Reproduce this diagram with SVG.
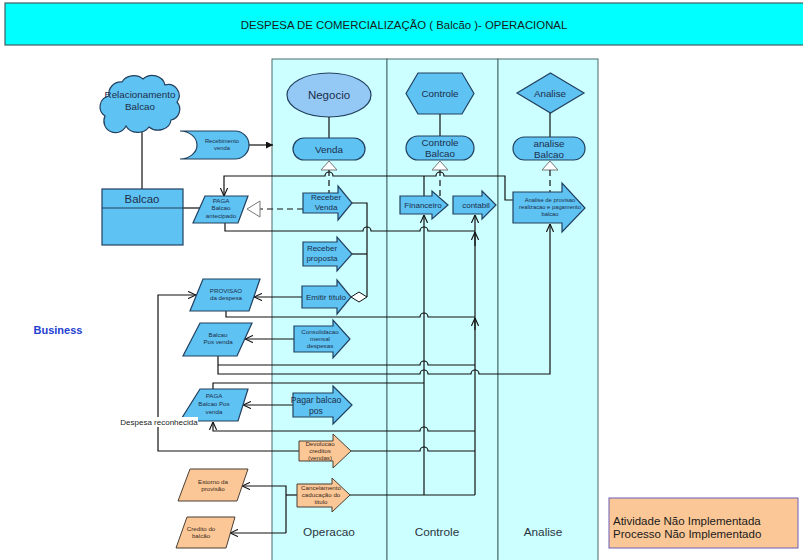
<svg xmlns="http://www.w3.org/2000/svg" width="803" height="560" viewBox="0 0 803 560">
<style>
text{font-family:"Liberation Sans",Arial,Helvetica,sans-serif;fill:#1c2e4a;text-anchor:middle}
.sh{fill:#5ec2f2;stroke:#22405f;stroke-width:1.2}
.lt{fill:#94c9f6;stroke:#22405f;stroke-width:1.2}
.or{fill:#fbc796;stroke:#4a3f35;stroke-width:1}
.ot{fill:#3b2a1c}
.c{fill:none;stroke:#111;stroke-width:1.2}
.d{stroke-dasharray:6 4}
.oa{marker-end:url(#oa)}
.lane{fill:#ccffff;stroke:#4a6a6a;stroke-width:1}
.tri{fill:#fff;stroke:#777;stroke-width:1}
.s6{font-size:6.2px}
.s8{font-size:8px}
.s10{font-size:9.8px}
.lbl{font-size:11.8px;fill:#2b3540}
</style>
<defs>
<marker id="oa" viewBox="0 0 10 10" refX="10" refY="5" markerWidth="8" markerHeight="8" markerUnits="userSpaceOnUse" orient="auto">
<path d="M0,0.5 L10,5 L0,9.5" fill="none" stroke="#111" stroke-width="1.4"/>
</marker>
<marker id="fa" viewBox="0 0 10 10" refX="10" refY="5" markerWidth="7" markerHeight="7" markerUnits="userSpaceOnUse" orient="auto">
<path d="M0,0 L10,5 L0,10 Z" fill="#111"/>
</marker>
</defs>

<rect width="803" height="560" fill="#fff"/>

<g id="header">
<rect x="5" y="3" width="803" height="42" fill="#00ffff" stroke="#3f5f5f" stroke-width="1.2"/>
<text x="404" y="29" style="font-size:11.4px;fill:#1a1a1a">DESPESA DE COMERCIALIZAÇÃO ( Balcão )- OPERACIONAL</text>
</g>

<g id="lanes">
<rect class="lane" x="272" y="59" width="115" height="510"/>
<rect class="lane" x="387" y="59" width="111" height="510"/>
<rect class="lane" x="498" y="59" width="100" height="510"/>
<text class="lbl" x="329" y="536">Operacao</text>
<text class="lbl" x="437" y="536">Controle</text>
<text class="lbl" x="543" y="536">Analise</text>
</g>

<text x="58" y="334" style="font-size:11px;font-weight:bold;fill:#2340d0">Business</text>

<g id="connectors">
<path class="c" d="M142,124 V189"/>
<path class="c" d="M183,208 H200"/>
<path class="c" d="M249,145 H273" marker-end="url(#fa)"/>
<path class="c d" d="M303,209 H260"/>
<polygon class="tri" points="247,209 260,201 260,217"/>
<path class="c oa" d="M513,200 H505 V176 H444 A4,4 0 0 0 436,176 H333 A4,4 0 0 0 325,176 H224 V196"/>
<path class="c" d="M424,176 V196"/>
<polygon class="tri" points="329,161 321,170 337,170"/>
<path class="c d" d="M329,170 V193"/>
<polygon class="tri" points="440,161 432,170 448,170"/>
<path class="c d" d="M440,170 V198"/>
<polygon class="tri" points="550,161 542,170 558,170"/>
<path class="c d" d="M550,170 V192"/>
<path class="c" d="M352,203 H367 V297"/>
<path class="c" d="M352,254 H367"/>
<polygon points="351,297 359,292 367,297 359,302" fill="#fff" stroke="#111" stroke-width="1"/>
<path class="c" d="M225,223 V231 H363 A4,4 0 0 1 371,231 H420 A4,4 0 0 1 428,231 H475"/>
<path class="c oa" d="M424,495 V215"/>
<path class="c oa" d="M475,495 V215"/>
<path class="c oa" d="M475,246 V232"/>
<path class="c oa" d="M475,330 V318"/>
<path class="c oa" d="M302,297 H254"/>
<path class="c" d="M226,311 V317 H420 A4,4 0 0 1 428,317 H475"/>
<path class="c oa" d="M294,339 H245"/>
<path class="c oa" d="M218,356 V374 H420 A4,4 0 0 1 428,374 H471 A4,4 0 0 1 479,374 H550 V224"/>
<path class="c" d="M218,365 H420 A4,4 0 0 1 428,365 H475"/>
<path class="c" d="M213,389 V383 H424"/>
<path class="c oa" d="M293,405 H243"/>
<path class="c oa" d="M475,431 H428 A4,4 0 0 0 420,431 H213 V422"/>
<path class="c oa" d="M299,451 H158 V295 H196"/>
<path class="c" d="M351,451 H420 A4,4 0 0 1 428,451 H475"/>
<path class="c" d="M350,495 H475"/>
<path class="c" d="M297,495 H286"/>
<path class="c oa" d="M286,533 V486 H242"/>
<path class="c oa" d="M286,533 H230"/>
</g>

<g id="relacionamento">
<path class="sh" d="M109,96 A12,12 0 0 1 122,82 A13,11 0 0 1 143,79 A13,12 0 0 1 165,85 A11,11 0 0 1 177,102 A11,11 0 0 1 171,120 A13,11 0 0 1 149,127 A13,11 0 0 1 126,126 A11,11 0 0 1 105,116 A11,11 0 0 1 109,96 Z"/>
<text x="140" y="98" class="s10">Relacionamento</text>
<text x="140" y="110" class="s10">Balcao</text>
</g>

<g id="balcao">
<rect class="sh" x="102" y="189" width="81" height="56"/>
<line x1="102" y1="208" x2="183" y2="208" stroke="#22405f" stroke-width="1.2"/>
<text x="142" y="203" style="font-size:11.4px">Balcao</text>
</g>

<g id="recebimento">
<path class="sh" d="M180,131 H235 A14,14 0 0 1 235,159 H180 A17,14 0 0 0 180,131 Z"/>
<text x="222" y="143" style="font-size:5.8px">Recebimento</text>
<text x="222" y="150" style="font-size:5.8px">venda</text>
</g>

<g id="paga-antecipado">
<polygon class="sh" points="205,196 248,196 238,223 193,223"/>
<text x="221" y="203" class="s6">PAGA</text>
<text x="221" y="210" class="s6">Balcao</text>
<text x="221" y="218" class="s6">antecipado</text>
</g>

<g id="negocio">
<ellipse class="lt" cx="329" cy="95" rx="42" ry="22"/>
<text x="329" y="99" style="font-size:11.5px">Negocio</text>
<line x1="329" y1="117" x2="329" y2="138" stroke="#111" stroke-width="1.2"/>
</g>
<g id="venda">
<rect class="sh" x="293" y="138" width="72" height="22" rx="11"/>
<text x="329" y="153" class="s10">Venda</text>
</g>

<g id="controle">
<polygon class="sh" points="418,73 462,73 474,93.5 462,114 418,114 406,93.5"/>
<text x="440" y="97" class="s10">Controle</text>
<line x1="440" y1="114" x2="440" y2="136" stroke="#111" stroke-width="1.2"/>
</g>
<g id="controle-balcao">
<rect class="sh" x="406" y="136" width="68" height="24" rx="12"/>
<text x="440" y="146" class="s10">Controle</text>
<text x="440" y="157" class="s10">Balcao</text>
</g>

<g id="analise">
<polygon class="sh" points="550.5,73 584,93 550.5,113 517,93"/>
<text x="550" y="97" class="s10">Analise</text>
<line x1="550" y1="113" x2="550" y2="137" stroke="#111" stroke-width="1.2"/>
</g>
<g id="analise-balcao">
<rect class="sh" x="513" y="137" width="72" height="23" rx="11.5"/>
<text x="549" y="147" class="s10">analise</text>
<text x="549" y="158" class="s10">Balcao</text>
</g>

<g id="receber-venda">
<polygon class="sh" points="303,193 338,193 338,186 352,203 338,220 338,213 303,213"/>
<text x="326" y="200" class="s8">Receber</text>
<text x="326" y="210" class="s8">Venda</text>
</g>
<g id="receber-proposta">
<polygon class="sh" points="303,242 337,242 337,237 352,254 337,271 337,266 303,266"/>
<text x="322" y="251" class="s8">Receber</text>
<text x="322" y="261" class="s8">proposta</text>
</g>
<g id="emitir-titulo">
<polygon class="sh" points="302,286 337,286 337,280 351,297 337,314 337,308 302,308"/>
<text x="326" y="300" class="s8">Emitir título</text>
</g>

<g id="financeiro">
<polygon class="sh" points="400,196 432,196 432,191 448,205 432,219 432,214 400,214"/>
<text x="423" y="208" class="s8">Financeiro</text>
</g>
<g id="contabil">
<polygon class="sh" points="453,196 482,196 482,191 496,205 482,219 482,214 453,214"/>
<text x="476" y="208" class="s8">contabil</text>
</g>
<g id="analise-provisao">
<polygon class="sh" points="513,192 562,192 562,183 585,208 562,232 562,223 513,223"/>
<text x="550" y="202" style="font-size:5.8px">Analise de provisao</text>
<text x="550" y="209" style="font-size:5.8px">realizacao e pagamento</text>
<text x="550" y="216" style="font-size:5.8px">balcao</text>
</g>

<g id="provisao">
<polygon class="sh" points="203,279 260,279 249,311 190,311"/>
<text x="226" y="293" class="s6">PROVISAO</text>
<text x="226" y="300" class="s6">da  despesa</text>
</g>
<g id="balcao-pos-venda">
<polygon class="sh" points="200,323 252,323 237,356 183,356"/>
<text x="218" y="337" class="s6">Balcao</text>
<text x="218" y="344" class="s6">Pos venda</text>
</g>
<g id="consolidacao">
<polygon class="sh" points="294,326 333,326 333,320 350,339 333,358 333,352 294,352"/>
<text x="320" y="334" class="s6">Consolidacao</text>
<text x="320" y="341" class="s6">mensal</text>
<text x="320" y="348" class="s6">despesas</text>
</g>
<g id="paga-pos-venda">
<polygon class="sh" points="200,389 248,389 238,421 180,421"/>
<text x="214" y="398" class="s6">PAGA</text>
<text x="214" y="406" class="s6">Balcao Pos</text>
<text x="214" y="414" class="s6">venda</text>
</g>
<g id="pagar-balcao-pos">
<polygon class="sh" points="293,393 333,393 333,386 352,405 333,424 333,417 293,417"/>
<text x="316" y="403" style="font-size:8.6px">Pagar balcao</text>
<text x="316" y="414" style="font-size:8.6px">pos</text>
</g>

<g id="devolucao">
<polygon class="or" points="299,441 333,441 333,434 351,451 333,468 333,461 299,461"/>
<text x="320" y="446" class="s6 ot">Devolucao</text>
<text x="320" y="453" class="s6 ot">creditos</text>
<text x="320" y="460" class="s6 ot">(vendas)</text>
</g>
<g id="cancelamento">
<polygon class="or" points="297,484 332,484 332,478 350,495 332,512 332,507 297,507"/>
<text x="321" y="490" class="s6 ot">Cancelamento</text>
<text x="321" y="497" class="s6 ot">caducação do</text>
<text x="321" y="504" class="s6 ot">titulo</text>
</g>
<g id="estorno">
<polygon class="or" points="190,469 248,469 237,501 178,501"/>
<text x="213" y="484" class="s6 ot">Estorno da</text>
<text x="213" y="491" class="s6 ot">provisão</text>
</g>
<g id="credito">
<polygon class="or" points="187,517 235,517 226,548 176,548"/>
<text x="201" y="531" class="s6 ot">Credito do</text>
<text x="201" y="538" class="s6 ot">balcão</text>
</g>

<g id="lbl-despesa">
<rect x="119" y="417" width="79" height="10" fill="#fff"/>
<text x="159" y="425" class="s8" style="fill:#222">Despesa reconhecida</text>
</g>

<g id="legend">
<rect x="609" y="498" width="189" height="50" fill="#fbc796" stroke="#6b5fb5" stroke-width="1"/>
<text x="613" y="525" style="font-size:11.5px;text-anchor:start;fill:#1a1a1a">Atividade Não Implementada</text>
<text x="613" y="538" style="font-size:11.5px;text-anchor:start;fill:#1a1a1a">Processo Não Implementado</text>
</g>
</svg>
